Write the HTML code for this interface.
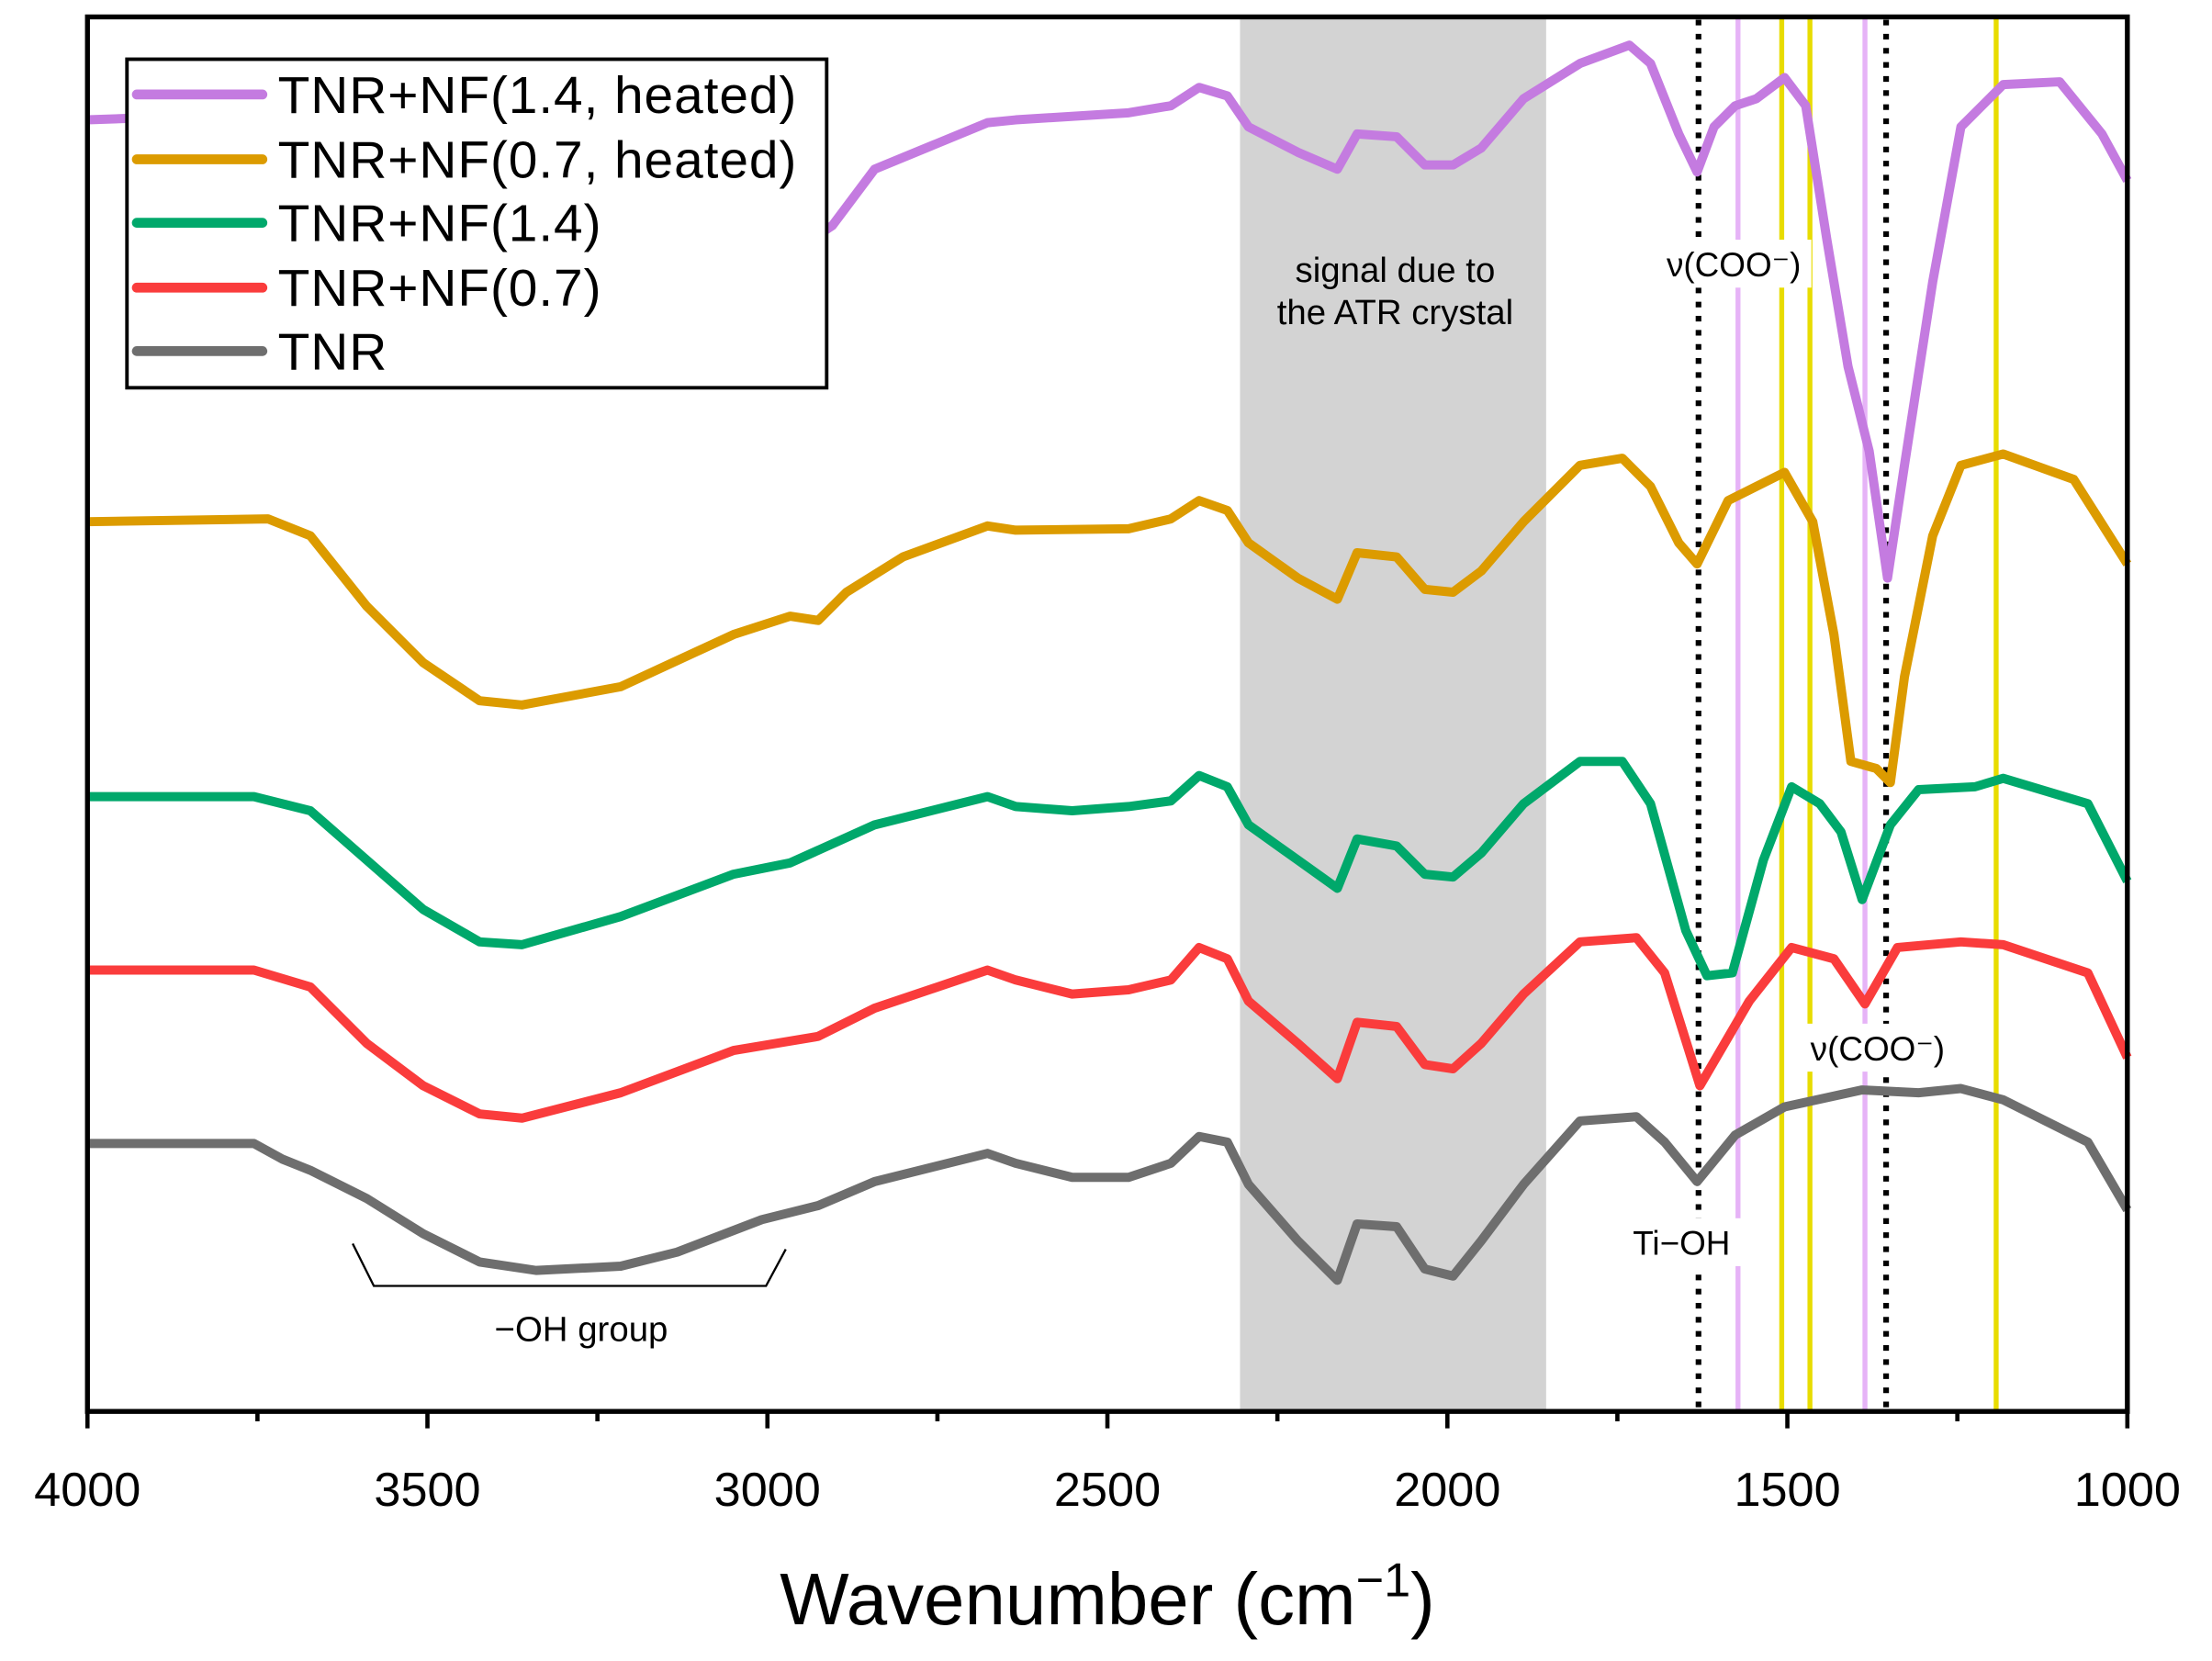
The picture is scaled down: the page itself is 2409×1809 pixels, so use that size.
<!DOCTYPE html>
<html><head><meta charset="utf-8"><style>html,body{margin:0;padding:0;background:#fff}svg{display:block}</style></head>
<body>
<svg width="2409" height="1809" viewBox="0 0 1568 1178" preserveAspectRatio="none" xmlns="http://www.w3.org/2000/svg" font-family="Liberation Sans, Arial, sans-serif">
<rect x="879" y="12" width="217" height="989" fill="#d3d3d3"/>
<g stroke-width="3.5">
<line x1="1232" y1="12" x2="1232" y2="1001" stroke="#e6b3f7"/>
<line x1="1322" y1="12" x2="1322" y2="1001" stroke="#e6b3f7"/>
<line x1="1263" y1="12" x2="1263" y2="1001" stroke="#e8dc00"/>
<line x1="1283" y1="12" x2="1283" y2="1001" stroke="#e8dc00"/>
<line x1="1415" y1="12" x2="1415" y2="1001" stroke="#e8dc00"/>
</g>
<g stroke="#000" stroke-width="4" stroke-dasharray="4,6">
<line x1="1204" y1="14" x2="1204" y2="1001"/>
<line x1="1337" y1="14" x2="1337" y2="1001"/>
</g>
<g fill="none" stroke-width="6.5" stroke-linejoin="round">
<polyline stroke="#6e6e6e" points="62,811 180,811 200,822 220,830 260,850 300,875 340,895 380,901 440,898 480,888 540,865 580,855 620,838 700,818 720,825 760,835 800,835 830,825 850,806 870,810 885,840 920,880 948,908 962,868 990,870 1010,900 1030,905 1050,880 1080,840 1120,795 1160,792 1180,810 1203,838 1230,805 1265,785 1320,773 1360,775 1390,772 1420,780 1480,810 1508,858"/>
<polyline stroke="#fa3c3c" points="62,688 180,688 220,700 260,740 300,770 340,790 370,793 440,775 520,745 580,735 620,715 700,688 720,695 760,705 800,702 830,695 850,672 870,680 885,710 920,740 948,765 962,725 990,728 1010,755 1030,758 1050,740 1080,705 1120,668 1160,665 1180,690 1205,770 1240,710 1270,672 1300,680 1322,712 1345,672 1390,668 1420,670 1480,690 1508,750"/>
<polyline stroke="#00a86b" points="62,565 180,565 220,575 260,610 300,645 340,668 370,670 440,650 520,620 560,612 620,585 700,565 720,572 760,575 800,572 830,568 850,550 870,558 885,585 920,610 948,630 962,595 990,600 1010,620 1030,622 1050,605 1080,570 1120,540 1150,540 1170,570 1195,660 1210,692 1228,690 1250,610 1270,558 1290,570 1305,590 1320,638 1340,585 1360,560 1400,558 1420,552 1480,570 1508,625"/>
<polyline stroke="#dc9b00" points="62,370 190,368 220,380 260,430 300,470 340,497 370,500 440,487 520,450 560,437 580,440 600,420 640,395 700,373 720,376 800,375 830,368 850,355 870,362 885,385 920,410 948,425 962,392 990,395 1010,418 1030,420 1050,405 1080,370 1120,330 1150,325 1170,345 1190,385 1203,400 1225,355 1265,335 1285,370 1300,450 1312,540 1330,545 1340,555 1350,480 1370,380 1390,330 1420,322 1470,340 1508,400"/>
<polyline stroke="#c47be0" points="62,85 200,80 240,88 380,100 440,120 500,148 560,180 590,160 620,120 700,87 720,85 800,80 830,75 850,62 870,68 885,90 920,108 948,120 962,95 990,97 1010,117 1030,117 1050,105 1080,70 1120,45 1155,32 1170,45 1190,95 1203,122 1215,90 1230,75 1245,70 1265,55 1280,75 1295,170 1310,260 1325,320 1338,410 1350,330 1370,200 1390,90 1420,60 1460,58 1490,95 1508,128"/>
</g>
<rect x="1174" y="170" width="110" height="34" fill="#fff"/>
<text x="1229" y="196" font-size="24" text-anchor="middle">ν(COO⁻)</text>
<rect x="1276" y="726" width="110" height="34" fill="#fff"/>
<text x="1331" y="752" font-size="24" text-anchor="middle">ν(COO⁻)</text>
<rect x="1143" y="864" width="98" height="34" fill="#fff"/>
<text x="1192" y="890" font-size="24" text-anchor="middle">Ti−OH</text>
<text x="989" y="200" font-size="25" text-anchor="middle">signal due to</text>
<text x="989" y="230" font-size="25" text-anchor="middle">the ATR crystal</text>
<polyline points="250,882 265,912 543,912 557,886" fill="none" stroke="#000" stroke-width="1.5"/>
<text x="412" y="951" font-size="25" text-anchor="middle">−OH group</text>
<rect x="62" y="12" width="1446" height="989" fill="none" stroke="#000" stroke-width="3.5"/>
<g stroke="#000" stroke-width="3">
<line x1="62" y1="1001" x2="62" y2="1013"/><line x1="303" y1="1001" x2="303" y2="1013"/><line x1="544" y1="1001" x2="544" y2="1013"/><line x1="785" y1="1001" x2="785" y2="1013"/><line x1="1026" y1="1001" x2="1026" y2="1013"/><line x1="1267" y1="1001" x2="1267" y2="1013"/><line x1="1508" y1="1001" x2="1508" y2="1013"/>
<line x1="182.5" y1="1001" x2="182.5" y2="1008"/><line x1="423.5" y1="1001" x2="423.5" y2="1008"/><line x1="664.5" y1="1001" x2="664.5" y2="1008"/><line x1="905.5" y1="1001" x2="905.5" y2="1008"/><line x1="1146.5" y1="1001" x2="1146.5" y2="1008"/><line x1="1387.5" y1="1001" x2="1387.5" y2="1008"/>
</g>
<g font-size="34" text-anchor="middle">
<text x="62" y="1068">4000</text><text x="303" y="1068">3500</text><text x="544" y="1068">3000</text><text x="785" y="1068">2500</text><text x="1026" y="1068">2000</text><text x="1267" y="1068">1500</text><text x="1508" y="1068">1000</text>
</g>
<text x="785" y="1152" font-size="52" text-anchor="middle">Wavenumber (cm<tspan font-size="34" dy="-20">−1</tspan><tspan dy="20">)</tspan></text>
<rect x="90" y="42" width="496" height="233" fill="#fff" stroke="#000" stroke-width="2.5"/>
<g stroke-width="7" stroke-linecap="round">
<line x1="97" y1="67" x2="186" y2="67" stroke="#c47be0"/>
<line x1="97" y1="113" x2="186" y2="113" stroke="#dc9b00"/>
<line x1="97" y1="158" x2="186" y2="158" stroke="#00a86b"/>
<line x1="97" y1="204" x2="186" y2="204" stroke="#fa3c3c"/>
<line x1="97" y1="249" x2="186" y2="249" stroke="#6e6e6e"/>
</g>
<g font-size="37" letter-spacing="0.6">
<text x="197" y="80">TNR+NF(1.4, heated)</text>
<text x="197" y="126">TNR+NF(0.7, heated)</text>
<text x="197" y="171">TNR+NF(1.4)</text>
<text x="197" y="217">TNR+NF(0.7)</text>
<text x="197" y="262">TNR</text>
</g>
</svg>
</body></html>
